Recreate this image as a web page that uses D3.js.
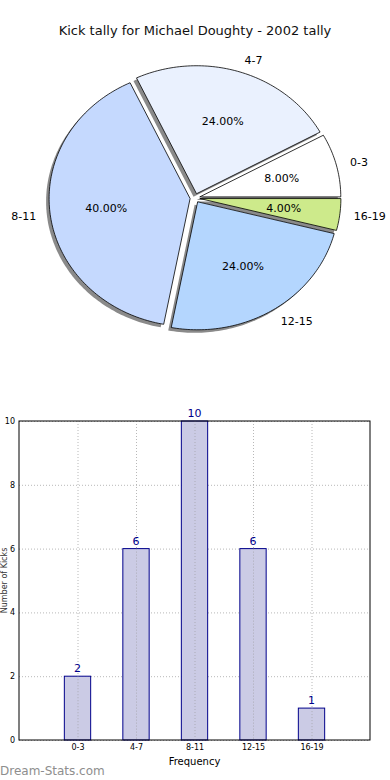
<!DOCTYPE html>
<html><head><meta charset="utf-8">
<script src="https://cdn.jsdelivr.net/npm/d3@7"></script>
<style>body{margin:0;background:#fff}svg{display:block}text{font-family:"DejaVu Sans",sans-serif}</style>
</head><body>
<svg id="c" width="390" height="780"></svg>
<script>
const categories = ["0-3","4-7","8-11","12-15","16-19"];
const counts = [2,6,10,6,1];
const pieColors = ["#ffffff","#eaf1fe","#c5d9fe","#b4d6fe","#cdea8b"];
const yTicks = [0,2,4,6,8,10];
const title = "Kick tally for Michael Doughty - 2002 tally";

const svg = d3.select("#c");

// ---------- Pie ----------
svg.append("text").attr("x",195).attr("y",35).attr("text-anchor","middle")
  .attr("font-size",13).attr("fill","#111").text(title);

const cx=195, cy=198, rx=141, ry=128, expl=0.035;
const pie = d3.pie().sort(null).startAngle(0).endAngle(2*Math.PI);
const arcs = pie(counts);
const total = d3.sum(counts);
const line = d3.line();
function wedgePts(a, ox, oy){
  const n = Math.max(4, Math.ceil((a.endAngle-a.startAngle)/0.02));
  const pts=[[ox,oy]];
  d3.range(n+1).forEach(i=>{
    const t=a.startAngle+(a.endAngle-a.startAngle)*i/n;
    pts.push([ox+rx*Math.cos(t), oy-ry*Math.sin(t)]);
  });
  return pts;
}
const geo = arcs.map(a=>{
  const m=(a.startAngle+a.endAngle)/2;
  return {a, m, ox: cx+expl*rx*Math.cos(m), oy: cy-expl*ry*Math.sin(m)};
});
const gp = svg.append("g");
gp.selectAll("path.sh").data(geo).join("path").attr("class","sh")
  .attr("d",d=>line(wedgePts(d.a,d.ox-3,d.oy+3))+"Z")
  .attr("fill","#8a8a8a").attr("stroke","none");
gp.selectAll("path.w").data(geo).join("path").attr("class","w")
  .attr("d",d=>line(wedgePts(d.a,d.ox,d.oy))+"Z")
  .attr("fill",(d,i)=>pieColors[i]).attr("stroke","#000").attr("stroke-width",0.8)
  .attr("stroke-linejoin","miter");
gp.selectAll("text.lab").data(geo).join("text").attr("class","lab")
  .attr("x",d=>d.ox+1.1*rx*Math.cos(d.m))
  .attr("y",d=>d.oy-1.1*ry*Math.sin(d.m))
  .attr("dy","0.35em").attr("font-size",11)
  .attr("text-anchor",d=>Math.cos(d.m)>0?"start":"end")
  .text((d,i)=>categories[i]);
gp.selectAll("text.pct").data(geo).join("text").attr("class","pct")
  .attr("x",d=>d.ox+0.6*rx*Math.cos(d.m))
  .attr("y",d=>d.oy-0.6*ry*Math.sin(d.m))
  .attr("dy","0.35em").attr("font-size",11).attr("text-anchor","middle")
  .text((d,i)=>(100*counts[i]/total).toFixed(2)+"%");

// ---------- Bar ----------
const L=19, R=370, T=421, B=740;
const x = d3.scaleLinear().domain([0,6]).range([L,R]);
const y = d3.scaleLinear().domain([0,10]).range([B,T]);
const gb = svg.append("g");
const grid = gb.append("g").attr("stroke","#b8b8b8").attr("stroke-width",1).attr("stroke-dasharray","1,2");
yTicks.forEach(v=>grid.append("line").attr("x1",L).attr("x2",R).attr("y1",y(v)+0.5).attr("y2",y(v)+0.5));
categories.forEach((c,i)=>grid.append("line").attr("x1",x(i+1)+0.5).attr("x2",x(i+1)+0.5).attr("y1",T).attr("y2",B));
const bw = x(0.45)-x(0);
gb.selectAll("rect.bar").data(counts).join("rect").attr("class","bar")
  .attr("x",(d,i)=>x(i+1)-bw/2).attr("width",bw)
  .attr("y",d=>y(d)).attr("height",d=>y(0)-y(d))
  .attr("fill","#cbcbe5").attr("stroke","#00008b").attr("stroke-width",1);
const grid2 = gb.append("g").attr("stroke","#999").attr("stroke-width",1).attr("stroke-dasharray","1,2").attr("opacity",0.6);
categories.forEach((c,i)=>grid2.append("line").attr("x1",x(i+1)+0.5).attr("x2",x(i+1)+0.5).attr("y1",y(counts[i])).attr("y2",B));
gb.selectAll("text.val").data(counts).join("text").attr("class","val")
  .attr("x",(d,i)=>x(i+1)).attr("y",d=>y(d)-4)
  .attr("text-anchor","middle").attr("font-size",11).attr("fill","#00008b").text(d=>d);
gb.append("rect").attr("x",L).attr("y",T).attr("width",R-L).attr("height",B-T)
  .attr("fill","none").attr("stroke","#000").attr("stroke-width",1);
const yAxis = d3.axisLeft(y).tickValues(yTicks).tickSize(0).tickPadding(4);
gb.append("g").attr("transform",`translate(${L},0)`).call(yAxis)
  .call(g=>g.select(".domain").remove())
  .call(g=>g.selectAll("text").attr("font-size",8).attr("font-family","DejaVu Sans").attr("fill","#000"));
const xAxis = d3.axisBottom(x).tickValues([1,2,3,4,5]).tickFormat((d)=>categories[d-1]).tickSize(0).tickPadding(4);
gb.append("g").attr("transform",`translate(0,${B})`).call(xAxis)
  .call(g=>g.select(".domain").remove())
  .call(g=>g.selectAll("text").attr("font-size",8).attr("font-family","DejaVu Sans").attr("fill","#000"));
svg.append("text").attr("x",(L+R)/2).attr("y",765).attr("text-anchor","middle").attr("font-size",10).text("Frequency");
svg.append("text").attr("transform",`translate(7,${(T+B)/2}) rotate(-90)`).attr("text-anchor","middle")
  .attr("font-size",8).attr("fill","#333").text("Number of Kicks");
svg.append("text").attr("x",0).attr("y",775).attr("font-size",12).attr("fill","#8e8e8e").text("Dream-Stats.com");
</script>
</body></html>
